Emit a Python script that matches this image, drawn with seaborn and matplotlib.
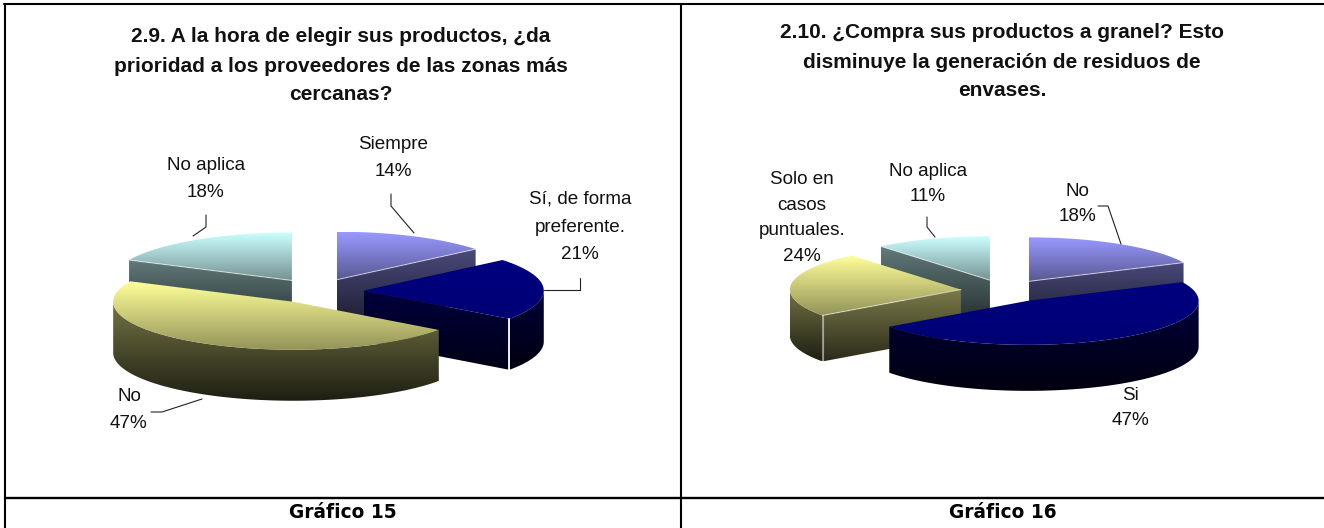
import matplotlib
matplotlib.use("Agg")
import matplotlib.pyplot as plt
import numpy as np
import seaborn as sns
from matplotlib.patches import Polygon

# left chart
left_title = [
    "2.9. A la hora de elegir sus productos, ¿da",
    "prioridad a los proveedores de las zonas más",
    "cercanas?",
]
left_names = ["Siempre", "Sí, de forma\npreferente.", "No", "No aplica"]
left_values = [14, 21, 47, 18]
left_caption = "Gráfico 15"

# right chart
right_title = [
    "2.10. ¿Compra sus productos a granel? Esto",
    "disminuye la generación de residuos de",
    "envases.",
]
right_names = ["No", "Si", "Solo en\ncasos\npuntuales.", "No aplica"]
right_values = [18, 47, 24, 11]
right_caption = "Gráfico 16"

SLICE_COLORS = ["#9999ff", "#000080", "#ffff99", "#ccffff"]
W, H = 1324, 528


def gradient(ax, points, color, top, bottom, z):
    # vertical fade clipped to the polygon
    points = np.asarray(points)
    cmap = sns.blend_palette(
        [np.array(matplotlib.colors.to_rgb(color)) * top,
         np.array(matplotlib.colors.to_rgb(color)) * bottom],
        as_cmap=True,
    )
    img = ax.imshow(
        np.linspace(0, 1, 64).reshape(-1, 1),
        cmap=cmap,
        aspect="auto",
        extent=[points[:, 0].min(), points[:, 0].max(), points[:, 1].max(), points[:, 1].min()],
        zorder=z,
    )
    clip = Polygon(points, closed=True, transform=ax.transData)
    img.set_clip_path(clip)


def pie_3d(ax, values, colors, center, rx, ry, depth, explode=0.26):
    shares = np.array(values) / np.sum(values) * 360
    ends = np.cumsum(shares)
    starts = ends - shares
    mids = (starts + ends) / 2
    order = np.argsort(-np.cos(np.radians(mids)))
    z = 2
    for i in order:
        a0, a1, mid = starts[i], ends[i], np.radians(mids[i])
        vx = center[0] + explode * rx * np.sin(mid)
        vy = center[1] - explode * ry * np.cos(mid)
        th = np.radians(np.linspace(a0, a1, 90))
        arc = np.column_stack([vx + rx * np.sin(th), vy - ry * np.cos(th)])
        top = np.vstack([[vx, vy], arc])
        color = colors[i]
        navy = color == "#000080"

        # radial walls that face the viewer
        for ang, normal in ((a0, a0 - 90), (a1, a1 + 90)):
            if np.cos(np.radians(normal)) >= -1e-6:
                continue
            t = np.radians(ang)
            edge = np.array([vx + rx * np.sin(t), vy - ry * np.cos(t)])
            wall = [[vx, vy], edge, edge + [0, depth], [vx, vy + depth]]
            gradient(ax, wall, color, 0.48, 0.17, z)
            z += 1
            if not navy:
                ax.plot([vx, edge[0]], [vy, edge[1]], color="white", alpha=0.55, lw=0.8, zorder=z + 40)
            if 90 < ang < 270:
                ax.plot([edge[0]] * 2, [edge[1], edge[1] + depth], color="white",
                        alpha=1.0 if navy else 0.5, lw=1.3 if navy else 0.8, zorder=z + 40)

        # outer rim, front part only
        lo, hi = max(a0, 90), min(a1, 270)
        if hi > lo:
            th = np.radians(np.linspace(lo, hi, 90))
            rim = np.column_stack([vx + rx * np.sin(th), vy - ry * np.cos(th)])
            band = np.vstack([rim, rim[::-1] + [0, depth]])
            gradient(ax, band, color, 0.45, 0.12, z)
            z += 1

        gradient(ax, top, color, 1.0, 0.9 if navy else 0.58, z)
        z += 1


def label(ax, x, y, name, value, spacing):
    ax.text(x, y, f"{name}\n{value}%", ha="center", va="center", fontsize=13.6,
            linespacing=spacing, color="#111111", zorder=80)


def leader(ax, xs, ys):
    ax.plot(xs, ys, color="#222222", lw=0.8, zorder=79)


sns.set_theme(style="white")
plt.rcParams["font.family"] = ["Liberation Sans", "DejaVu Sans"]

fig = plt.figure(figsize=(W / 100, H / 100), dpi=100, facecolor="white")
ax = fig.add_axes([0, 0, 1, 1])

pie_3d(ax, left_values, SLICE_COLORS, (317, 291), 180, 48, 51)
pie_3d(ax, right_values, SLICE_COLORS, (1005, 291), 171, 44, 46)

for lines, cx, rows in ((left_title, 341, (37, 66, 95)), (right_title, 1002, (33, 62, 91))):
    for line, y in zip(lines, rows):
        ax.text(cx, y, line, ha="center", va="center", fontsize=15, fontweight="bold", color="#111111")

label(ax, 393, 158, left_names[0], left_values[0], 1.82)
label(ax, 580, 227, left_names[1], left_values[1], 1.82)
label(ax, 129, 410, left_names[2], left_values[2], 1.82)
label(ax, 206, 179, left_names[3], left_values[3], 1.82)
leader(ax, [391, 391, 414], [194, 206, 233])
leader(ax, [580, 580, 544], [278, 290, 290])
leader(ax, [151, 162, 202], [412, 412, 399])
leader(ax, [206, 206, 193], [215, 227, 236])

label(ax, 1077, 204, right_names[0], right_values[0], 1.66)
label(ax, 1130, 408, right_names[1], right_values[1], 1.66)
label(ax, 802, 218, right_names[2], right_values[2], 1.66)
label(ax, 928, 184, right_names[3], right_values[3], 1.66)
leader(ax, [1098, 1108, 1121], [206, 206, 244])
leader(ax, [927, 927, 935], [217, 227, 237])

# table rules, no frame on the right or at the bottom
ax.plot([4, W], [4, 4], color="black", lw=1.5, zorder=90)
ax.plot([5, 5], [4, H], color="black", lw=1.5, zorder=90)
ax.plot([681, 681], [4, H], color="black", lw=1.5, zorder=90)
ax.plot([5, W], [498, 498], color="black", lw=1.7, zorder=90)
for text, x in ((left_caption, 342.5), (right_caption, 1003)):
    ax.text(x, 513, text, ha="center", va="center", fontsize=13.4, fontweight="bold",
            family=["DejaVu Sans"], color="black", zorder=90)

ax.set_xlim(0, W)
ax.set_ylim(H, 0)
ax.axis("off")
fig.savefig("out.png", dpi=100)
